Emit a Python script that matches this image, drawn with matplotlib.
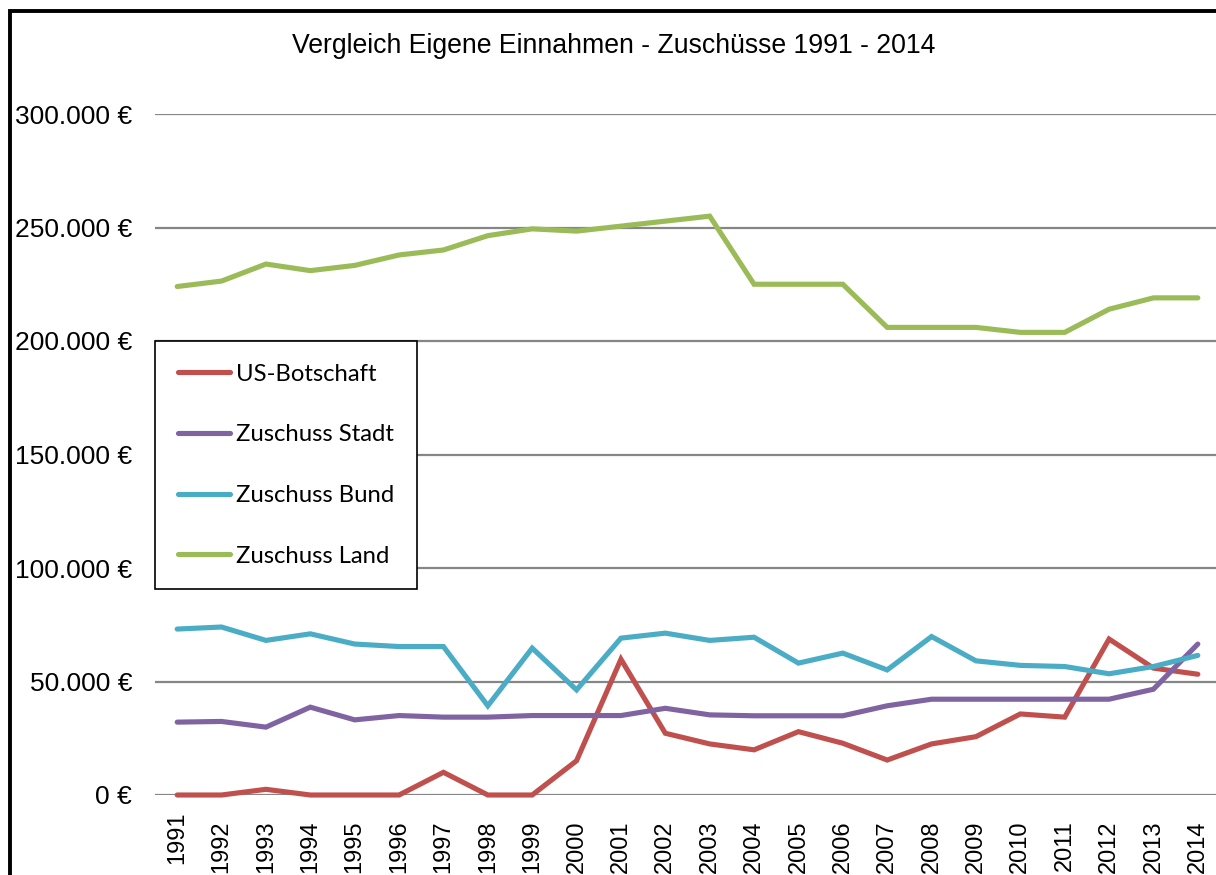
import matplotlib
matplotlib.use("Agg")
import matplotlib.pyplot as plt
from matplotlib.patches import Rectangle
from matplotlib.ticker import FuncFormatter
from matplotlib.transforms import ScaledTranslation

years = [str(y) for y in range(1991, 2015)]

us_botschaft = [0, 0, 2500, 0, 0, 0, 10000, 0, 0, 15100, 59800, 27200,
                22500, 19900, 27900, 22800, 15400, 22500, 25700, 35700, 34300, 68700, 55900, 53200]
zuschuss_stadt = [32100, 32400, 29900, 38700, 33100, 35000, 34300, 34300, 35000, 35000, 35000, 38200,
                  35300, 34900, 34900, 34900, 39300, 42200, 42200, 42200, 42200, 42200, 46600, 66500]
zuschuss_bund = [73100, 74000, 68100, 71000, 66500, 65400, 65400, 39300, 64700, 46300, 69100, 71300,
                 68100, 69500, 58100, 62500, 55100, 69800, 59100, 57100, 56600, 53400, 56600, 61500]
zuschuss_land = [224000, 226400, 233900, 231000, 233300, 237900, 240100, 246400, 249400, 248400, 250600, 252800,
                 255000, 225000, 225000, 225000, 206000, 206000, 206000, 203800, 203800, 214000, 219000, 219000]

series_names = ["US-Botschaft", "Zuschuss Stadt", "Zuschuss Bund", "Zuschuss Land"]
series_values = [us_botschaft, zuschuss_stadt, zuschuss_bund, zuschuss_land]
colors = ["#C0504D", "#8064A2", "#4BACC6", "#9BBB59"]

title = "Vergleich Eigene Einnahmen - Zuschüsse 1991 - 2014"

W, H = 1216, 875
fig = plt.figure(figsize=(W / 100, H / 100), dpi=100)

def fx(px):
    return px / W

def fy(py):
    return 1 - py / H

ax = fig.add_axes([fx(155), fy(795), fx(1220) - fx(155), fy(114) - fy(795)])

x = list(range(len(years)))
handles = []
for name, vals, c in zip(series_names, series_values, colors):
    h, = ax.plot(x, vals, color=c, lw=3.7, label=name, solid_joinstyle="miter",
                 solid_capstyle="round", clip_on=False, zorder=3)
    handles.append(h)

ax.set_xlim(-0.5, len(years) - 0.5)
ax.set_ylim(0, 300000)
ax.set_yticks(range(0, 300001, 50000))
ax.yaxis.set_major_formatter(FuncFormatter(lambda v, p: "0 €" if v == 0 else f"{int(v):,} €".replace(",", ".")))
ax.set_xticks(x)
ax.set_xticklabels(years, rotation=90, fontsize=17, family="Liberation Sans")
for lab in ax.get_yticklabels():
    lab.set_fontsize(19)
    lab.set_family("Liberation Sans")
ax.tick_params(axis="y", length=0, pad=16.5)
ax.tick_params(axis="x", length=0, pad=18.5)
ax.grid(axis="y", color="#868686", lw=1.6)
ax.set_axisbelow(True)
for s in ax.spines.values():
    s.set_visible(False)

first = ax.get_xticklabels()[0]
first.set_transform(first.get_transform() + ScaledTranslation(0, 9 / 100, fig.dpi_scale_trans))

fig.text(fx(614), fy(46), title, ha="center", va="center", fontsize=19.2, family="Liberation Sans")

leg = fig.legend(handles=handles, labels=series_names, loc="upper left",
                 bbox_to_anchor=(fx(155), fy(341)), bbox_transform=fig.transFigure,
                 frameon=True, fancybox=False, edgecolor="black", framealpha=1,
                 prop={"family": "Lato", "size": 17.2}, handlelength=2.2,
                 handletextpad=0.25, labelspacing=1.66, borderpad=0.95, borderaxespad=0)
leg.get_frame().set_linewidth(1.2)

fig.patches.append(Rectangle((fx(10), fy(1000)), 2, fy(11) - fy(1000), transform=fig.transFigure,
                             fill=False, edgecolor="black", lw=2.8, clip_on=False))

fig.savefig("out.png", dpi=100)
